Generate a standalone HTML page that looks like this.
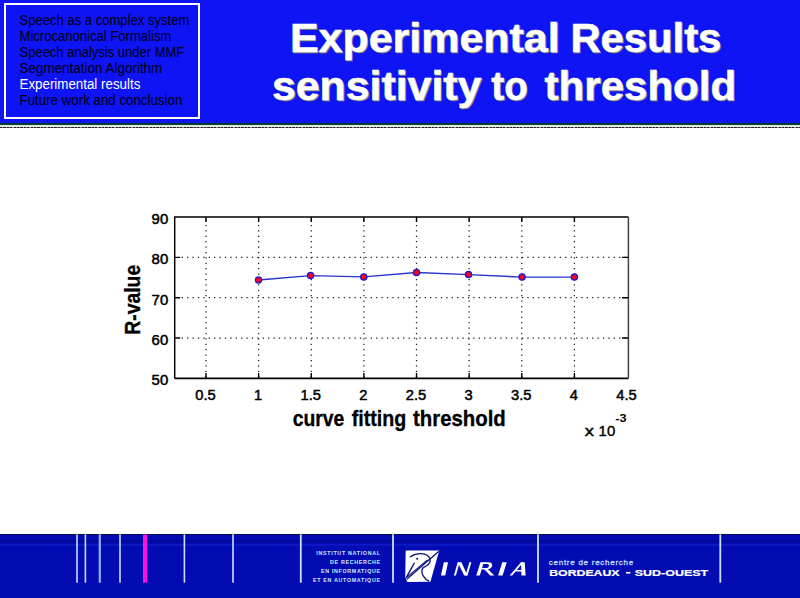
<!DOCTYPE html>
<html>
<head>
<meta charset="utf-8">
<title>Experimental Results sensitivity to threshold</title>
<style>
html,body{margin:0;padding:0;}
body{width:800px;height:598px;overflow:hidden;background:#ffffff;position:relative;font-family:"Liberation Sans",sans-serif;}
#hdr{position:absolute;left:0;top:0;width:800px;height:123px;background:#0e14f4;}
#hl1{position:absolute;left:0;top:123px;width:800px;height:2px;background:#0a3a2a;}
#hl2{position:absolute;left:0;top:125px;width:800px;height:1.5px;background:#e4ebe6;}
#hl3{position:absolute;left:0;top:126.5px;width:800px;height:1.6px;background:repeating-linear-gradient(90deg,#202020 0,#202020 2.2px,#8c8c8c 2.2px,#8c8c8c 3.4px);}
#nav{position:absolute;left:4px;top:3px;width:191.6px;height:111.7px;border:2px solid #ffffff;border-right-width:2.4px;}
#ftr{position:absolute;left:0;top:534.3px;width:800px;height:64px;background:#030bb2;}
#ftop{position:absolute;left:0;top:533.8px;width:800px;height:1.6px;background:#0a0a48;}
svg{position:absolute;left:0;top:0;}
</style>
</head>
<body>
<div id="hdr"></div>
<div id="hl1"></div><div id="hl2"></div><div id="hl3"></div>
<div id="nav"></div>
<div id="ftr"></div>
<div id="ftop"></div>
<svg width="800" height="598" viewBox="0 0 800 598">
<g id="navtext">
<text x="19.5" y="24.8" textLength="169.8" lengthAdjust="spacingAndGlyphs" font-family="Liberation Sans, sans-serif" font-size="14" fill="#00000c">Speech as a complex system</text>
<text x="19.5" y="40.8" textLength="151.8" lengthAdjust="spacingAndGlyphs" font-family="Liberation Sans, sans-serif" font-size="14" fill="#00000c">Microcanonical Formalism</text>
<text x="19.5" y="56.8" textLength="164.8" lengthAdjust="spacingAndGlyphs" font-family="Liberation Sans, sans-serif" font-size="14" fill="#00000c">Speech analysis under MMF</text>
<text x="19.5" y="72.8" textLength="142.8" lengthAdjust="spacingAndGlyphs" font-family="Liberation Sans, sans-serif" font-size="14" fill="#00000c">Segmentation Algorithm</text>
<text x="19.5" y="88.8" textLength="120.8" lengthAdjust="spacingAndGlyphs" font-family="Liberation Sans, sans-serif" font-size="14" fill="#ffffff">Experimental results</text>
<text x="19.5" y="104.8" textLength="162.8" lengthAdjust="spacingAndGlyphs" font-family="Liberation Sans, sans-serif" font-size="14" fill="#00000c">Future work and conclusion</text>
</g>
<g id="title" font-family="Liberation Sans, sans-serif" font-weight="bold" font-size="39" stroke-width="0.5">
<text transform="translate(290.8 53.3) scale(1 1.03)" textLength="269.8" lengthAdjust="spacingAndGlyphs" fill="#8a8a76" stroke="#8a8a76">Experimental</text>
<text transform="translate(571.3 53.3) scale(1 1.03)" textLength="150.9" lengthAdjust="spacingAndGlyphs" fill="#8a8a76" stroke="#8a8a76">Results</text>
<text transform="translate(272.9 101.3) scale(1 1.03)" textLength="209.4" lengthAdjust="spacingAndGlyphs" fill="#8a8a76" stroke="#8a8a76">sensitivity</text>
<text transform="translate(492.2 101.3) scale(1 1.03)" textLength="36.4" lengthAdjust="spacingAndGlyphs" fill="#8a8a76" stroke="#8a8a76">to</text>
<text transform="translate(545.5 101.3) scale(1 1.03)" textLength="191.5" lengthAdjust="spacingAndGlyphs" fill="#8a8a76" stroke="#8a8a76">threshold</text>
<text transform="translate(289.9 52.0) scale(1 1.03)" textLength="269.8" lengthAdjust="spacingAndGlyphs" fill="#ffffff" stroke="#ffffff">Experimental</text>
<text transform="translate(570.4 52.0) scale(1 1.03)" textLength="150.9" lengthAdjust="spacingAndGlyphs" fill="#ffffff" stroke="#ffffff">Results</text>
<text transform="translate(272.0 100.0) scale(1 1.03)" textLength="209.4" lengthAdjust="spacingAndGlyphs" fill="#ffffff" stroke="#ffffff">sensitivity</text>
<text transform="translate(491.3 100.0) scale(1 1.03)" textLength="36.4" lengthAdjust="spacingAndGlyphs" fill="#ffffff" stroke="#ffffff">to</text>
<text transform="translate(544.6 100.0) scale(1 1.03)" textLength="191.5" lengthAdjust="spacingAndGlyphs" fill="#ffffff" stroke="#ffffff">threshold</text>
</g>
<g id="chart">
<line x1="206.00" y1="219.50" x2="206.00" y2="378.40" stroke="#1c1c1c" stroke-width="1.25" stroke-dasharray="1.25 4.15"/>
<line x1="258.63" y1="219.50" x2="258.63" y2="378.40" stroke="#1c1c1c" stroke-width="1.25" stroke-dasharray="1.25 4.15"/>
<line x1="311.26" y1="219.50" x2="311.26" y2="378.40" stroke="#1c1c1c" stroke-width="1.25" stroke-dasharray="1.25 4.15"/>
<line x1="363.89" y1="219.50" x2="363.89" y2="378.40" stroke="#1c1c1c" stroke-width="1.25" stroke-dasharray="1.25 4.15"/>
<line x1="416.52" y1="219.50" x2="416.52" y2="378.40" stroke="#1c1c1c" stroke-width="1.25" stroke-dasharray="1.25 4.15"/>
<line x1="469.15" y1="219.50" x2="469.15" y2="378.40" stroke="#1c1c1c" stroke-width="1.25" stroke-dasharray="1.25 4.15"/>
<line x1="521.78" y1="219.50" x2="521.78" y2="378.40" stroke="#1c1c1c" stroke-width="1.25" stroke-dasharray="1.25 4.15"/>
<line x1="574.41" y1="219.50" x2="574.41" y2="378.40" stroke="#1c1c1c" stroke-width="1.25" stroke-dasharray="1.25 4.15"/>
<line x1="181.70" y1="257.35" x2="628.40" y2="257.35" stroke="#1c1c1c" stroke-width="1.25" stroke-dasharray="1.25 4.15"/>
<line x1="181.70" y1="297.70" x2="628.40" y2="297.70" stroke="#1c1c1c" stroke-width="1.25" stroke-dasharray="1.25 4.15"/>
<line x1="181.70" y1="338.05" x2="628.40" y2="338.05" stroke="#1c1c1c" stroke-width="1.25" stroke-dasharray="1.25 4.15"/>
<path d="M174.70 378.40V217.00H628.40" fill="none" stroke="#000" stroke-width="1.45"/>
<path d="M174.70 378.40H628.40" fill="none" stroke="#000" stroke-width="1.6"/>
<path d="M628.40 217.00V378.40" fill="none" stroke="#3c4446" stroke-width="1.5"/>
<path d="M206.00 378.40v-5.5M206.00 217.00v5" stroke="#000" stroke-width="1.4"/>
<path d="M258.63 378.40v-5.5M258.63 217.00v5" stroke="#000" stroke-width="1.4"/>
<path d="M311.26 378.40v-5.5M311.26 217.00v5" stroke="#000" stroke-width="1.4"/>
<path d="M363.89 378.40v-5.5M363.89 217.00v5" stroke="#000" stroke-width="1.4"/>
<path d="M416.52 378.40v-5.5M416.52 217.00v5" stroke="#000" stroke-width="1.4"/>
<path d="M469.15 378.40v-5.5M469.15 217.00v5" stroke="#000" stroke-width="1.4"/>
<path d="M521.78 378.40v-5.5M521.78 217.00v5" stroke="#000" stroke-width="1.4"/>
<path d="M574.41 378.40v-5.5M574.41 217.00v5" stroke="#000" stroke-width="1.4"/>
<path d="M174.70 257.35h5.5M628.40 257.35h-6.5" stroke="#000" stroke-width="1.4"/>
<path d="M174.70 297.70h5.5M628.40 297.70h-6.5" stroke="#000" stroke-width="1.4"/>
<path d="M174.70 338.05h5.5M628.40 338.05h-6.5" stroke="#000" stroke-width="1.4"/>
<path d="M258.50 280.00L310.60 275.60L363.75 276.90L416.50 272.50L468.50 274.60L522.10 277.10L574.40 277.10" fill="none" stroke="#2834c8" stroke-width="1.4"/>
<circle cx="258.50" cy="280.00" r="3.1" fill="#ff0018" stroke="#2418d0" stroke-width="1.3"/>
<circle cx="310.60" cy="275.60" r="3.1" fill="#ff0018" stroke="#2418d0" stroke-width="1.3"/>
<circle cx="363.75" cy="276.90" r="3.1" fill="#ff0018" stroke="#2418d0" stroke-width="1.3"/>
<circle cx="416.50" cy="272.50" r="3.1" fill="#ff0018" stroke="#2418d0" stroke-width="1.3"/>
<circle cx="468.50" cy="274.60" r="3.1" fill="#ff0018" stroke="#2418d0" stroke-width="1.3"/>
<circle cx="522.10" cy="277.10" r="3.1" fill="#ff0018" stroke="#2418d0" stroke-width="1.3"/>
<circle cx="574.40" cy="277.10" r="3.1" fill="#ff0018" stroke="#2418d0" stroke-width="1.3"/>
<text x="205.50" y="400.3" text-anchor="middle" font-family="Liberation Sans, sans-serif" font-size="14.7" fill="#000" stroke="#000" stroke-width="0.5">0.5</text>
<text x="258.13" y="400.3" text-anchor="middle" font-family="Liberation Sans, sans-serif" font-size="14.7" fill="#000" stroke="#000" stroke-width="0.5">1</text>
<text x="310.76" y="400.3" text-anchor="middle" font-family="Liberation Sans, sans-serif" font-size="14.7" fill="#000" stroke="#000" stroke-width="0.5">1.5</text>
<text x="363.39" y="400.3" text-anchor="middle" font-family="Liberation Sans, sans-serif" font-size="14.7" fill="#000" stroke="#000" stroke-width="0.5">2</text>
<text x="416.02" y="400.3" text-anchor="middle" font-family="Liberation Sans, sans-serif" font-size="14.7" fill="#000" stroke="#000" stroke-width="0.5">2.5</text>
<text x="468.65" y="400.3" text-anchor="middle" font-family="Liberation Sans, sans-serif" font-size="14.7" fill="#000" stroke="#000" stroke-width="0.5">3</text>
<text x="521.28" y="400.3" text-anchor="middle" font-family="Liberation Sans, sans-serif" font-size="14.7" fill="#000" stroke="#000" stroke-width="0.5">3.5</text>
<text x="573.91" y="400.3" text-anchor="middle" font-family="Liberation Sans, sans-serif" font-size="14.7" fill="#000" stroke="#000" stroke-width="0.5">4</text>
<text x="626.54" y="400.3" text-anchor="middle" font-family="Liberation Sans, sans-serif" font-size="14.7" fill="#000" stroke="#000" stroke-width="0.5">4.5</text>
<text x="151.6" y="224.00" textLength="16.6" lengthAdjust="spacingAndGlyphs" font-family="Liberation Sans, sans-serif" font-size="14.7" fill="#000" stroke="#000" stroke-width="0.5">90</text>
<text x="151.6" y="264.35" textLength="16.6" lengthAdjust="spacingAndGlyphs" font-family="Liberation Sans, sans-serif" font-size="14.7" fill="#000" stroke="#000" stroke-width="0.5">80</text>
<text x="151.6" y="304.70" textLength="16.6" lengthAdjust="spacingAndGlyphs" font-family="Liberation Sans, sans-serif" font-size="14.7" fill="#000" stroke="#000" stroke-width="0.5">70</text>
<text x="151.6" y="345.05" textLength="16.6" lengthAdjust="spacingAndGlyphs" font-family="Liberation Sans, sans-serif" font-size="14.7" fill="#000" stroke="#000" stroke-width="0.5">60</text>
<text x="151.6" y="385.40" textLength="16.6" lengthAdjust="spacingAndGlyphs" font-family="Liberation Sans, sans-serif" font-size="14.7" fill="#000" stroke="#000" stroke-width="0.5">50</text>
<text transform="translate(292.7 425.7) scale(1 1.07)" textLength="51.6" font-family="Liberation Sans, sans-serif" font-weight="bold" font-size="20" fill="#000" stroke="#000" stroke-width="0.3" lengthAdjust="spacingAndGlyphs">curve</text>
<text transform="translate(351.7 425.7) scale(1 1.07)" textLength="54.6" font-family="Liberation Sans, sans-serif" font-weight="bold" font-size="20" fill="#000" stroke="#000" stroke-width="0.3" lengthAdjust="spacingAndGlyphs">fitting</text>
<text transform="translate(413.0 425.7) scale(1 1.07)" textLength="92.8" font-family="Liberation Sans, sans-serif" font-weight="bold" font-size="20" fill="#000" stroke="#000" stroke-width="0.3" lengthAdjust="spacingAndGlyphs">threshold</text>
<text x="0" y="0" transform="translate(139.8 334.8) rotate(-90) scale(1 1.12)" font-family="Liberation Sans, sans-serif" font-weight="bold" font-size="19.4" fill="#000" stroke="#000" stroke-width="0.3">R-value</text>
<g font-family="Liberation Sans, sans-serif" font-size="14.6" fill="#000" stroke="#000" stroke-width="0.4"><text x="584.8" y="436.4" textLength="9.2" lengthAdjust="spacingAndGlyphs">x</text><text x="598.6" y="436.4" textLength="16.6" lengthAdjust="spacingAndGlyphs">10</text></g>
<text x="615.2" y="421.5" textLength="11.3" lengthAdjust="spacingAndGlyphs" font-family="Liberation Sans, sans-serif" font-size="10.8" font-weight="bold" fill="#000">-3</text>
</g>
<g id="footer">
<rect x="0" y="540.2" width="800" height="2.2" fill="#000050" opacity="0.3"/>
<rect x="0" y="544.4" width="800" height="1.1" fill="#3048ff" opacity="0.4"/>
<rect x="76.20" y="534.2" width="1.6" height="48.5" fill="#c4dcf6"/>
<rect x="84.60" y="534.2" width="1.6" height="48.5" fill="#c4dcf6"/>
<rect x="98.70" y="534.2" width="2.2" height="48.5" fill="#8fb4ee"/>
<rect x="119.20" y="534.2" width="1.6" height="48.5" fill="#c4dcf6"/>
<rect x="183.60" y="534.2" width="1.6" height="48.5" fill="#cce2f8"/>
<rect x="232.20" y="534.2" width="1.6" height="48.5" fill="#cce2f8"/>
<rect x="299.90" y="534.2" width="1.8" height="48.5" fill="#cce2f8"/>
<rect x="392.10" y="534.2" width="1.8" height="48.5" fill="#cce2f8"/>
<rect x="537.10" y="534.2" width="1.8" height="48.5" fill="#cce2f8"/>
<rect x="719.40" y="534.2" width="1.8" height="48.5" fill="#cce2f8"/>
<rect x="143" y="534.6" width="4.1" height="48.1" fill="#ff10e0"/>
<text x="316.3" y="555.2" textLength="63.7" lengthAdjust="spacing" font-family="Liberation Sans, sans-serif" font-weight="bold" font-size="5.3" fill="#d2eaff">INSTITUT NATIONAL</text>
<text x="330.0" y="564.0" textLength="50.0" lengthAdjust="spacing" font-family="Liberation Sans, sans-serif" font-weight="bold" font-size="5.3" fill="#d2eaff">DE RECHERCHE</text>
<text x="321.0" y="572.9" textLength="59.0" lengthAdjust="spacing" font-family="Liberation Sans, sans-serif" font-weight="bold" font-size="5.3" fill="#d2eaff">EN INFORMATIQUE</text>
<text x="312.9" y="581.9" textLength="67.1" lengthAdjust="spacing" font-family="Liberation Sans, sans-serif" font-weight="bold" font-size="5.3" fill="#d2eaff">ET EN AUTOMATIQUE</text>
<path d="M405.7 550.6L439.3 550.6L430.4 581.7L407.2 581.9L405.2 576.6Z" fill="#ffffff"/>
<g fill="none" stroke="#0c147c" stroke-width="1.35" stroke-linecap="round" stroke-linejoin="round"><path d="M410.4 556.8C413.5 554.6 417.5 553.5 421 553.6C425.5 553.8 429.2 555.8 430 559.2C430.6 562 429 564.6 426.2 566C424.5 566.9 423.2 567.3 422.6 568.4C421.4 570.6 421.8 573.6 423.4 576.2C424.8 578.5 426.8 580.3 428.8 581.1"/><path d="M438.3 551.8L407.3 578.7"/><path d="M427.2 560.2L406.6 577.4" stroke-width="1.1"/><path d="M414.3 563.2L406.5 577.2"/></g>
<circle cx="417.1" cy="558.7" r="1.0" fill="#0c147c"/>
<g id="inria" fill="#ffffff" stroke="none"><path d="M443.9 562.3H448.1L445.2 575.6H440.9Z"/><path d="M457.7 562.3H459.7L455.9 575.6H453.9Z"/><path d="M457.7 562.3H461.4L467.5 575.6H464.2Z"/><path d="M469.4 562.3H471.4L467.5 575.6H465.5Z"/><path d="M480.4 562.3H483.8L479.8 575.6H476.3Z"/><path d="M482 562.3H488.2C491.2 562.3 492.6 563.8 492.2 565.8C491.7 568.2 489.3 569.6 486.2 569.6H481.6L482.1 568H485.9C487.6 568 488.7 567.2 488.9 565.9C489.1 564.7 488.4 564 486.9 564H482Z"/><path d="M484.0 569.0H487.7L494.3 575.6H490.2Z"/><path d="M502.3 562.3H506.7L502.6 575.6H498.1Z"/><path d="M521.0 562.3H523.2L512.2 575.6H509.7Z"/><path d="M521.0 562.3H524.7L525.6 575.6H521.4Z"/><path d="M515.2 569.9H522V571.4H514Z"/></g>
<text x="548.8" y="565.3" textLength="84.4" lengthAdjust="spacing" font-family="Liberation Sans, sans-serif" font-size="8" fill="#bcdcff" stroke="#bcdcff" stroke-width="0.3">centre de recherche</text>
<g font-family="Liberation Sans, sans-serif" font-weight="bold" font-size="9.1" fill="#ffffff" stroke="#ffffff" stroke-width="0.2"><text x="549.2" y="575.7" textLength="70.4" lengthAdjust="spacingAndGlyphs">BORDEAUX</text><rect x="626" y="571.9" width="4.4" height="1.7" stroke="none"/><text x="634.8" y="575.7" textLength="73.4" lengthAdjust="spacingAndGlyphs">SUD-OUEST</text></g>
</g>
</svg>
</body>
</html>
